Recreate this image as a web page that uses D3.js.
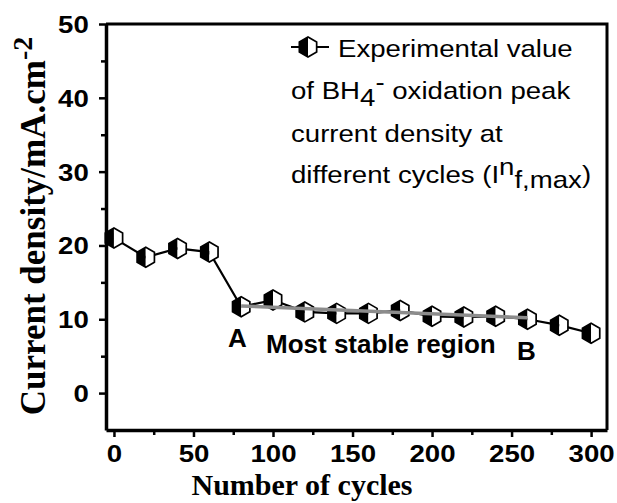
<!DOCTYPE html>
<html>
<head>
<meta charset="utf-8">
<script src="https://cdn.jsdelivr.net/npm/d3@7"></script>
<style>
  body { margin: 0; background: #fff; }
  svg { display: block; }
  .tickLabel { font-family: "Liberation Sans", Arial, sans-serif; font-weight: bold; font-size: 24px; }
  .axisTitle { font-family: "Liberation Serif", "Times New Roman", serif; font-weight: bold; }
  .legendText { font-family: "Liberation Sans", Arial, sans-serif; font-size: 24px; }
  .note { font-family: "Liberation Sans", Arial, sans-serif; font-weight: bold; font-size: 26px; }
</style>
</head>
<body>
<div id="chart"></div>
<script>
"use strict";

// values
let cycles = [0, 20, 40, 60, 80, 100, 120, 140, 160, 180, 200, 220, 240, 260, 280, 300];
let density = [21.0, 18.4, 19.6, 19.1, 11.7, 12.6, 11.0, 10.8, 10.8, 11.2, 10.4, 10.3, 10.4, 10.0, 9.2, 8.1];

// grey fit over the stable region, A -> B
let fitCycles = [80, 260];
let fitDensity = [11.8, 10.2];

let xTicks = [0, 50, 100, 150, 200, 250, 300];
let yTicks = [0, 10, 20, 30, 40, 50];

let width = 617, height = 503;
let plot = { left: 106, right: 607, top: 24, bottom: 430 };

let svg = d3.select("#chart").append("svg")
  .attr("width", width)
  .attr("height", height);

svg.append("rect").attr("width", width).attr("height", height).attr("fill", "#fff");

let x = d3.scaleLinear().domain([-5, 310]).range([plot.left, plot.right]);
let y = d3.scaleLinear().domain([-5, 50]).range([plot.bottom, plot.top]);

// frame (top and right)
svg.append("path")
  .attr("d", "M" + plot.left + "," + plot.top + "H" + plot.right + "V" + plot.bottom)
  .attr("fill", "none")
  .attr("stroke", "#000")
  .attr("stroke-width", 3);

// minor ticks
svg.append("g")
  .attr("transform", "translate(0," + plot.bottom + ")")
  .call(d3.axisBottom(x).tickValues(d3.range(25, 300, 50)).tickSize(5).tickSizeOuter(0).tickFormat(""))
  .call(g => g.select(".domain").remove())
  .call(g => g.selectAll("line").attr("stroke-width", 2.5));

svg.append("g")
  .attr("transform", "translate(" + plot.left + ",0)")
  .call(d3.axisLeft(y).tickValues(d3.range(5, 50, 10)).tickSize(5).tickSizeOuter(0).tickFormat(""))
  .call(g => g.select(".domain").remove())
  .call(g => g.selectAll("line").attr("stroke-width", 2.5));

// major axes
let xAxis = svg.append("g")
  .attr("transform", "translate(0," + plot.bottom + ")")
  .call(d3.axisBottom(x).tickValues(xTicks).tickSize(7).tickSizeOuter(0).tickPadding(8));

let yAxis = svg.append("g")
  .attr("transform", "translate(" + plot.left + ",0)")
  .call(d3.axisLeft(y).tickValues(yTicks).tickSize(7).tickSizeOuter(0).tickPadding(8));

[xAxis, yAxis].forEach(a => {
  a.select(".domain").attr("stroke-width", 3.5);
  a.selectAll(".tick line").attr("stroke-width", 2.5);
  a.selectAll("text")
    .attr("class", "tickLabel")
    .attr("font-size", null)
    .attr("font-family", null)
    .attr("fill", "#000");
});
xAxis.selectAll("text").attr("dy", null).attr("y", 32).attr("transform", "scale(1.15,1)");
yAxis.selectAll("text").attr("dy", "0.35em").attr("x", -15).attr("transform", "scale(1.15,1)");

// axis titles
svg.append("text")
  .attr("class", "axisTitle")
  .attr("x", 302)
  .attr("y", 495)
  .attr("text-anchor", "middle")
  .attr("font-size", 30)
  .text("Number of cycles");

let yTitle = svg.append("text")
  .attr("class", "axisTitle")
  .attr("transform", "translate(45,226) rotate(-90)")
  .attr("text-anchor", "middle")
  .attr("font-size", 35);
yTitle.append("tspan").text("Current density/mA.cm");
yTitle.append("tspan").attr("dy", -13).attr("font-size", 28).text("-2");

// hexagon marker, left half black
let r = 10;
let hw = r * Math.sqrt(3) / 2;
let leftHalf = "M0," + (-r) + "L" + (-hw) + "," + (-r / 2) + "L" + (-hw) + "," + (r / 2) + "L0," + r + "Z";
let rightHalf = "M0," + (-r) + "L" + hw + "," + (-r / 2) + "L" + hw + "," + (r / 2) + "L0," + r + "Z";

function drawMarker(g) {
  g.append("path").attr("d", leftHalf).attr("fill", "#000");
  g.append("path").attr("d", rightHalf).attr("fill", "#fff");
  g.append("path").attr("d", leftHalf.replace("Z", "") + "L" + hw + "," + (r / 2) + "L" + hw + "," + (-r / 2) + "Z")
    .attr("fill", "none")
    .attr("stroke", "#000")
    .attr("stroke-width", 1.7)
    .attr("stroke-linejoin", "miter");
}

let points = cycles.map((c, i) => ({ c: c, v: density[i] }));

let line = d3.line().x(d => x(d.c)).y(d => y(d.v));

svg.append("path")
  .datum(points)
  .attr("d", line)
  .attr("fill", "none")
  .attr("stroke", "#000")
  .attr("stroke-width", 2.2);

svg.selectAll(".marker")
  .data(points)
  .enter().append("g")
  .attr("class", "marker")
  .attr("transform", d => "translate(" + x(d.c) + "," + y(d.v) + ")")
  .each(function() { drawMarker(d3.select(this)); });

// linear fit, drawn on top
svg.append("path")
  .datum(fitCycles.map((c, i) => ({ c: c, v: fitDensity[i] })))
  .attr("d", line)
  .attr("fill", "none")
  .attr("stroke", "#8c8c8c")
  .attr("stroke-width", 3.5);

// annotations
svg.append("text").attr("class", "note").attr("x", 228).attr("y", 347).text("A");
svg.append("text").attr("class", "note").attr("x", 266).attr("y", 353).attr("font-size", 25).text("Most stable region");
svg.append("text").attr("class", "note").attr("x", 517).attr("y", 360).text("B");

// legend
let legend = svg.append("g");
legend.append("line")
  .attr("x1", 291).attr("x2", 329)
  .attr("y1", 47).attr("y2", 47)
  .attr("stroke", "#000")
  .attr("stroke-width", 2.2);
legend.append("g")
  .attr("transform", "translate(308,47)")
  .call(drawMarker);

function legendLine(xPos, yPos) {
  return legend.append("g")
    .attr("transform", "translate(" + xPos + "," + yPos + ") scale(1.15,1)")
    .append("text")
    .attr("class", "legendText");
}

legendLine(338, 57).text("Experimental value");

let l2 = legendLine(291, 99);
l2.append("tspan").text("of BH");
l2.append("tspan").attr("dy", 7).text("4");
l2.append("tspan").attr("dy", -16).text("-");
l2.append("tspan").attr("dy", 9).text(" oxidation peak");

legendLine(291, 142).text("current density at");

let l4 = legendLine(291, 183);
l4.append("tspan").text("different cycles (I");
l4.append("tspan").attr("dy", -8).text("n");
l4.append("tspan").attr("dy", 13).text("f,max");
l4.append("tspan").attr("dy", -5).text(")");
</script>
</body>
</html>
